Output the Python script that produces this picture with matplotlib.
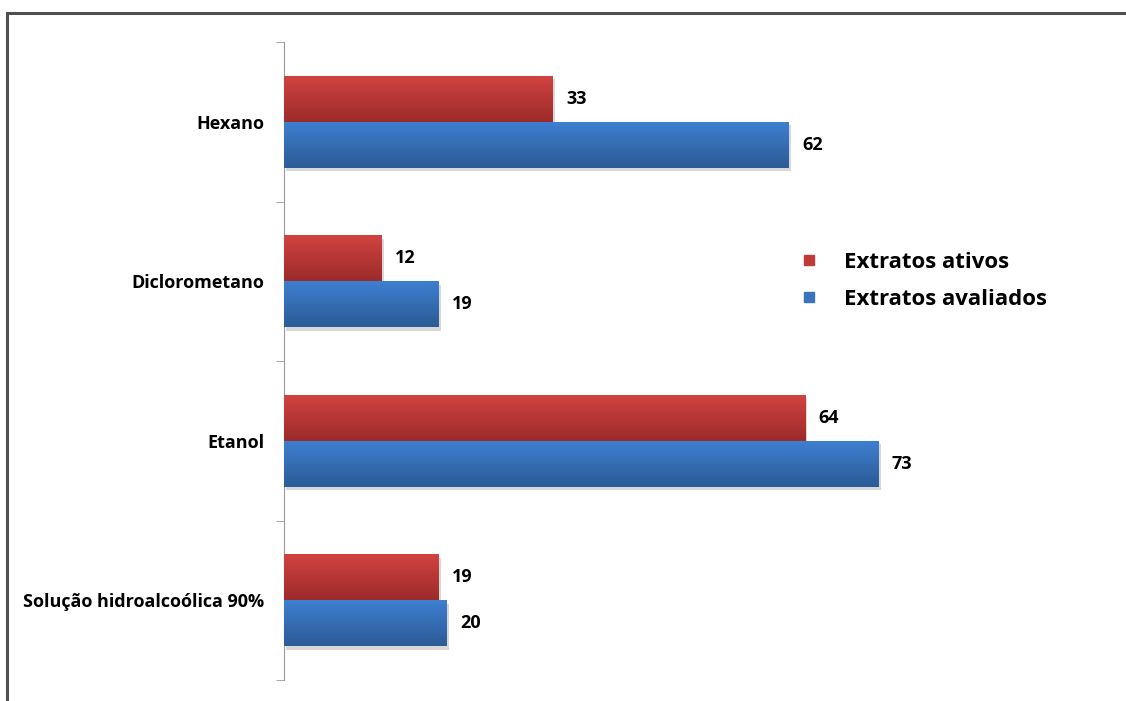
import matplotlib.pyplot as plt
import matplotlib.patheffects as pe
from matplotlib.colors import LinearSegmentedColormap
from matplotlib.lines import Line2D
import numpy as np

categories = ["Hexano", "Diclorometano", "Etanol", "Solução hidroalcoólica 90%"]
ativos = [33, 12, 64, 19]
avaliados = [62, 19, 73, 20]
series_names = ["Extratos ativos", "Extratos avaliados"]

FONT = ["Open Sans", "DejaVu Sans"]
red_cmap = LinearSegmentedColormap.from_list("r", ["#9c2b2a", "#d14341"])
blue_cmap = LinearSegmentedColormap.from_list("b", ["#2c5b96", "#3d7fd0"])

fig = plt.figure(figsize=(11.26, 7.01), dpi=100)
ax = fig.add_axes([284 / 1126, 21 / 701, 814.5 / 1126, 638 / 701])

ypos = np.arange(len(categories))[::-1]
h = 0.288
grad = np.linspace(0, 1, 64).reshape(-1, 1)


def gradient_bars(bars, cmap):
    # paint a vertical gradient inside each bar patch
    for bar in bars:
        x, y = bar.get_x(), bar.get_y()
        w, hh = bar.get_width(), bar.get_height()
        bar.set_path_effects([pe.SimplePatchShadow(offset=(1.5, -2.5), shadow_rgbFace="#aaaaaa", alpha=0.45), pe.Normal()])
        im = ax.imshow(grad, extent=[x, x + w, y, y + hh], origin="lower",
                       aspect="auto", cmap=cmap, zorder=3)
        im.set_clip_path(bar)


red_bars = ax.barh(ypos + h / 2, ativos, height=h, color="#b83735", zorder=2)
blue_bars = ax.barh(ypos - h / 2, avaliados, height=h, color="#3569b0", zorder=2)
gradient_bars(red_bars, red_cmap)
gradient_bars(blue_bars, blue_cmap)

for yy, v in zip(ypos + h / 2, ativos):
    ax.annotate(str(v), (v, yy), xytext=(9.5, 0), textcoords="offset points",
                va="center", ha="left", fontsize=13, fontweight="bold", family=FONT)
for yy, v in zip(ypos - h / 2, avaliados):
    ax.annotate(str(v), (v, yy), xytext=(9.5, 0), textcoords="offset points",
                va="center", ha="left", fontsize=13, fontweight="bold", family=FONT)

ax.set_xlim(0, 100)
ax.set_ylim(-0.5, len(categories) - 0.5)
ax.set_yticks(ypos, labels=categories)
ax.set_yticks(np.arange(len(categories) + 1) - 0.5, minor=True)
ax.tick_params(axis="y", which="major", length=0, pad=14, labelsize=13)
ax.tick_params(axis="y", which="minor", length=6, color="#999999")
for lbl in ax.get_yticklabels():
    lbl.set_fontweight("bold")
    lbl.set_family(FONT)
ax.set_xticks([])
for s in ["top", "right", "bottom"]:
    ax.spines[s].set_visible(False)
ax.spines["left"].set_color("#999999")

handles = [Line2D([], [], marker="s", ls="", markersize=7, markerfacecolor="#c03a38", markeredgecolor="#c03a38"),
           Line2D([], [], marker="s", ls="", markersize=7, markerfacecolor="#3a74c0", markeredgecolor="#3a74c0")]
fig.legend(handles, series_names, loc="upper left", bbox_to_anchor=(778 / 1126, 1 - 232 / 701),
           frameon=False, prop={"family": FONT, "weight": "bold", "size": 16},
           handletextpad=1.05, labelspacing=0.72, handlelength=1.0)

# outer frame (only top and left edges are inside the picture)
fig.add_artist(Line2D([7 / 1126, 7 / 1126], [0, 1 - 13 / 701], color="#505050", lw=2.2))
fig.add_artist(Line2D([7 / 1126, 1], [1 - 13 / 701, 1 - 13 / 701], color="#505050", lw=2.2))

fig.savefig("out.png", dpi=100)
